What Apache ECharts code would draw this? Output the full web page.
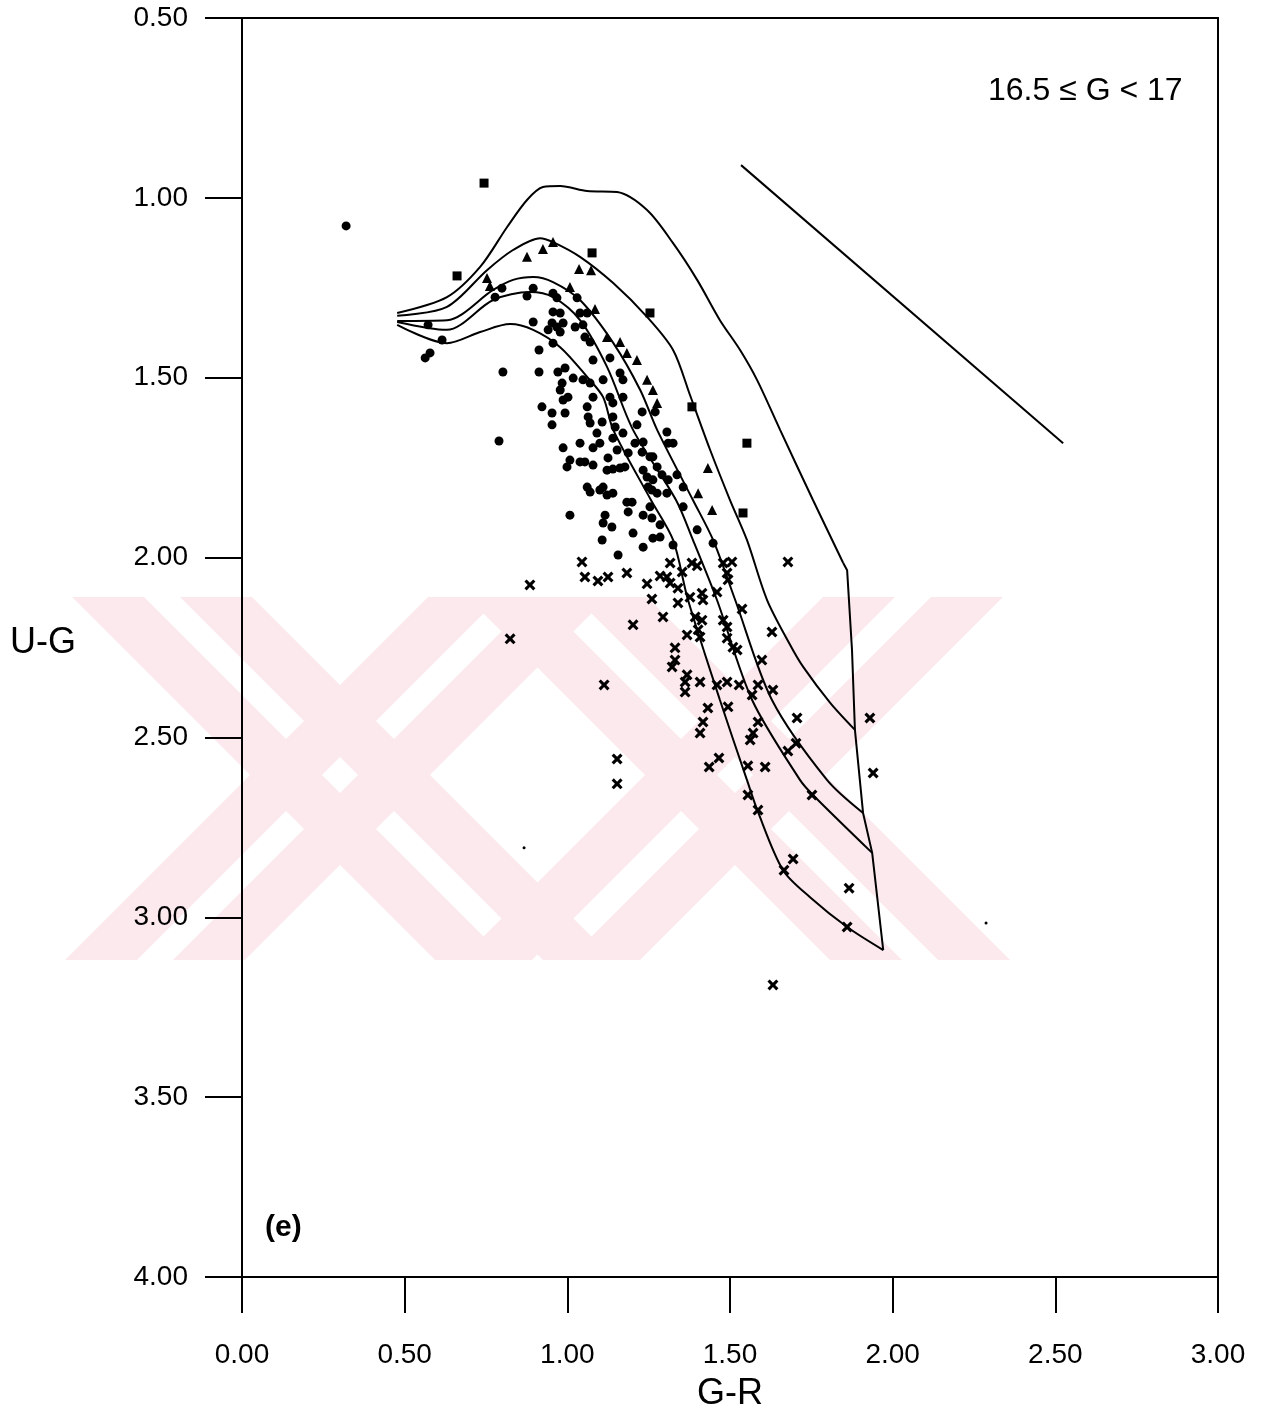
<!DOCTYPE html>
<html>
<head>
<meta charset="utf-8">
<script src="https://cdn.jsdelivr.net/npm/echarts@6/dist/echarts.min.js"></script>
<style>
  html, body { margin: 0; padding: 0; background: #fff; }
  #chart { width: 1267px; height: 1416px; }
</style>
</head>
<body>
<div id="chart"></div>
<script>
// axis ticks
const xTicks = [0, 0.5, 1, 1.5, 2, 2.5, 3];
const yTicks = [0.5, 1, 1.5, 2, 2.5, 3, 3.5, 4];

// model curves, G-R vs U-G
const curve1 = [[0.477,1.320],[0.630,1.276],[0.732,1.192],[0.815,1.081],[0.876,1.006],[0.925,0.970],[0.978,0.967],
  [1.061,0.981],[1.153,0.984],[1.245,1.034],[1.325,1.126],[1.399,1.228],[1.469,1.340],[1.531,1.423],[1.583,1.506],
  [1.654,1.645],[1.755,1.840],[1.848,2.015]];
const curve2 = [[0.477,1.328],[0.630,1.303],[0.753,1.201],[0.833,1.145],[0.916,1.112],[0.956,1.123],[1.039,1.164],
  [1.141,1.237],[1.245,1.331],[1.325,1.423],[1.377,1.548],[1.439,1.701],[1.500,1.840],[1.552,1.951],[1.614,2.118],
  [1.685,2.243],[1.725,2.304],[1.808,2.404],[1.884,2.479]];
const curve3 = [[0.477,1.342],[0.630,1.340],[0.772,1.256],[0.833,1.228],[0.895,1.220],[0.956,1.234],[1.039,1.284],
  [1.141,1.403],[1.224,1.534],[1.276,1.645],[1.386,1.840],[1.448,1.951],[1.516,2.118],[1.629,2.396],[1.798,2.618],
  [1.909,2.710]];
const curve4 = [[0.477,1.345],[0.630,1.367],[0.772,1.284],[0.885,1.262],[0.956,1.276],[1.039,1.340],[1.122,1.470],
  [1.202,1.645],[1.334,1.840],[1.386,1.951],[1.460,2.118],[1.568,2.396],[1.715,2.618],[1.755,2.660],[1.937,2.821]];
const curve5 = [[0.477,1.353],[0.630,1.404],[0.732,1.373],[0.824,1.351],[0.895,1.367],[0.978,1.415],[1.061,1.498],
  [1.110,1.554],[1.141,1.645],[1.257,1.840],[1.325,1.951],[1.371,2.118],[1.469,2.396],[1.552,2.618],[1.586,2.707],
  [1.663,2.869],[1.746,2.944],[1.860,3.027],[1.971,3.091]];
const rightEdge = [[1.848,2.015],[1.860,2.035],[1.875,2.257],[1.884,2.479],[1.909,2.710],[1.937,2.821],[1.971,3.091]];
const reddening = [[1.534,0.909],[2.524,1.682]];

// stars by symbol
const circles = [[0.320,1.078],[0.572,1.353],[0.615,1.395],[0.578,1.431],[0.563,1.445],[0.778,1.276],[0.799,1.251],
  [0.895,1.251],[0.876,1.273],[0.956,1.265],[0.968,1.278],[1.030,1.278],[0.895,1.345],[0.956,1.317],[0.978,1.320],
  [0.953,1.348],[0.968,1.359],[0.987,1.348],[0.941,1.367],[0.978,1.373],[1.024,1.359],[1.039,1.320],[1.061,1.320],
  [1.048,1.353],[0.956,1.404],[0.913,1.423],[0.802,1.484],[0.913,1.484],[0.971,1.484],[0.993,1.473],[1.054,1.387],
  [1.070,1.401],[1.079,1.451],[1.018,1.501],[1.048,1.506],[1.070,1.515],[1.131,1.445],[1.110,1.506],[1.162,1.487],
  [1.171,1.506],[1.131,1.554],[1.140,1.570],[1.171,1.554],[1.079,1.554],[0.984,1.515],[0.978,1.534],[0.987,1.562],
  [0.993,1.598],[0.922,1.581],[0.953,1.598],[0.953,1.631],[1.061,1.581],[1.064,1.609],[1.070,1.626],[1.107,1.623],
  [1.140,1.609],[1.147,1.637],[1.214,1.631],[1.002,1.554],[1.140,1.668],[1.171,1.654],[1.091,1.654],[1.100,1.682],
  [1.039,1.682],[1.079,1.695],[0.987,1.695],[1.208,1.682],[1.233,1.679],[1.153,1.701],[1.230,1.707],[1.254,1.720],
  [1.008,1.729],[1.039,1.734],[1.054,1.734],[0.999,1.748],[1.079,1.743],[1.125,1.723],[1.122,1.757],[1.140,1.754],
  [1.162,1.751],[1.177,1.748],[1.187,1.709],[1.233,1.757],[1.245,1.776],[1.263,1.720],[1.276,1.748],[1.263,1.784],
  [1.291,1.770],[1.337,1.770],[1.310,1.784],[1.248,1.804],[1.260,1.812],[1.061,1.804],[1.070,1.818],[1.100,1.812],
  [1.110,1.804],[1.122,1.826],[1.140,1.821],[1.276,1.821],[1.306,1.821],[1.356,1.804],[1.183,1.846],[1.199,1.846],
  [1.187,1.873],[1.254,1.859],[1.233,1.882],[1.260,1.890],[1.285,1.909],[1.008,1.882],[1.116,1.882],[1.110,1.904],
  [1.137,1.915],[1.202,1.932],[1.107,1.951],[1.263,1.946],[1.285,1.943],[1.233,1.971],[1.156,1.993],[1.325,1.965],
  [1.306,1.651],[1.310,1.682],[1.325,1.682],[1.270,1.595],[1.230,1.595],[1.399,1.923],[1.448,1.960],[0.790,1.676],
  [1.356,1.859]];
const triangles = [[0.876,1.164],[0.925,1.142],[0.956,1.123],[1.036,1.198],[1.073,1.201],[1.008,1.248],[0.753,1.223],
  [0.762,1.245],[1.085,1.309],[1.122,1.387],[1.162,1.401],[1.183,1.431],[1.214,1.451],[1.245,1.506],[1.263,1.534],
  [1.276,1.570],[1.432,1.751],[1.402,1.821],[1.445,1.868]];
const squares = [[0.744,0.959],[0.661,1.217],[1.076,1.153],[1.254,1.320],[1.383,1.581],[1.552,1.682],[1.540,1.876]];
const crosses = [[1.045,2.012],[0.885,2.076],[1.054,2.054],[1.094,2.065],[1.125,2.054],[1.183,2.043],[1.245,2.073],
  [1.316,2.015],[1.285,2.051],[1.306,2.054],[1.316,2.071],[1.340,2.085],[1.353,2.040],[1.383,2.015],[1.399,2.023],
  [1.479,2.015],[1.506,2.012],[1.491,2.043],[1.494,2.062],[1.460,2.096],[1.414,2.099],[1.417,2.118],[1.377,2.110],
  [1.340,2.126],[1.260,2.115],[1.294,2.165],[1.202,2.187],[0.824,2.226],[1.537,2.143],[1.393,2.165],[1.414,2.174],
  [1.402,2.201],[1.408,2.221],[1.368,2.215],[1.331,2.251],[1.331,2.285],[1.322,2.304],[1.368,2.326],[1.362,2.346],
  [1.362,2.374],[1.408,2.346],[1.460,2.354],[1.491,2.346],[1.528,2.354],[1.586,2.354],[1.629,2.207],[1.678,2.012],
  [1.598,2.285],[1.632,2.368],[1.113,2.354],[1.432,2.418],[1.494,2.415],[1.417,2.457],[1.408,2.488],[1.568,2.382],
  [1.586,2.457],[1.571,2.488],[1.562,2.507],[1.706,2.446],[1.678,2.538],[1.703,2.516],[1.153,2.560],[1.153,2.629],
  [1.436,2.582],[1.466,2.557],[1.555,2.579],[1.608,2.582],[1.555,2.660],[1.479,2.174],[1.491,2.193],[1.491,2.224],
  [1.509,2.249],[1.522,2.257],[1.930,2.446],[1.940,2.599],[1.752,2.660],[1.586,2.702],[1.694,2.838],[1.666,2.869],
  [1.866,2.919],[1.860,3.027],[1.632,3.188]];
const specks = [[0.867,2.807],[2.287,3.016]];

const FONT = '"Liberation Sans", Arial, sans-serif';
const crossPath = 'path://M0,2L2,0L5,3L8,0L10,2L7,5L10,8L8,10L5,7L2,10L0,8L3,5Z';

// faint scanned watermark behind the plot: two striped X shapes
const markTop = 597, markBottom = 960, markMidY = 775;
const markCenters = [340, 735];
function watermark() {
  const out = [];
  const stripes = [[-90, -18], [18, 90]];
  markCenters.forEach(cx => {
    [1, -1].forEach(dir => {
      stripes.forEach(s => {
        const t = cx + dir * (markTop - markMidY), b = cx + dir * (markBottom - markMidY);
        out.push({
          type: 'polygon', z: -10, silent: true,
          shape: { points: [[t + s[0], markTop], [t + s[1], markTop], [b + s[1], markBottom], [b + s[0], markBottom]] },
          style: { fill: '#fce9ed' }
        });
      });
    });
  });
  return out;
}

function curveSeries(data, smooth) {
  return {
    type: 'line', data: data, showSymbol: false, smooth: smooth, silent: true,
    lineStyle: { color: '#000', width: 2 }
  };
}
function starSeries(data, symbol, size) {
  return {
    type: 'scatter', data: data, symbol: symbol, symbolSize: size, silent: true,
    itemStyle: { color: '#000', opacity: 1 }
  };
}

const chart = echarts.init(document.getElementById('chart'));
chart.setOption({
  animation: false,
  backgroundColor: '#fff',
  grid: { left: 242, right: 49, top: 18, bottom: 139, show: true, borderColor: '#000', borderWidth: 2 },
  xAxis: {
    type: 'value', min: xTicks[0], max: xTicks[xTicks.length - 1], interval: 0.5,
    axisLine: { lineStyle: { color: '#000', width: 2 } },
    axisTick: { length: 36, lineStyle: { color: '#000', width: 2 } },
    axisLabel: { formatter: v => v.toFixed(2), color: '#000', fontSize: 28, fontFamily: FONT, margin: 64 },
    splitLine: { show: false }
  },
  yAxis: {
    type: 'value', inverse: true, min: yTicks[0], max: yTicks[yTicks.length - 1], interval: 0.5,
    axisLine: { lineStyle: { color: '#000', width: 2 } },
    axisTick: { length: 37, lineStyle: { color: '#000', width: 2 } },
    axisLabel: { formatter: v => v.toFixed(2), color: '#000', fontSize: 28, fontFamily: FONT, margin: 54 },
    splitLine: { show: false }
  },
  graphic: watermark().concat([
    { type: 'text', x: 10, y: 643, style: { text: 'U-G', font: '36px ' + FONT, fill: '#000', verticalAlign: 'middle' } },
    { type: 'text', x: 730, y: 1394, style: { text: 'G-R', font: '36px ' + FONT, fill: '#000', align: 'center', verticalAlign: 'middle' } },
    { type: 'text', x: 988, y: 91, style: { text: '16.5 ≤ G < 17', font: '32px ' + FONT, fill: '#000', verticalAlign: 'middle' } },
    { type: 'text', x: 265, y: 1228, style: { text: '(e)', font: 'bold 30px ' + FONT, fill: '#000', verticalAlign: 'middle' } }
  ]),
  series: [
    curveSeries(curve1, 0.3),
    curveSeries(curve2, 0.3),
    curveSeries(curve3, 0.3),
    curveSeries(curve4, 0.3),
    curveSeries(curve5, 0.3),
    curveSeries(rightEdge, false),
    curveSeries(reddening, false),
    starSeries(circles, 'circle', 9),
    starSeries(triangles, 'triangle', 10),
    starSeries(squares, 'rect', 9),
    starSeries(crosses, crossPath, 11),
    starSeries(specks, 'circle', 3)
  ]
});
</script>
</body>
</html>
